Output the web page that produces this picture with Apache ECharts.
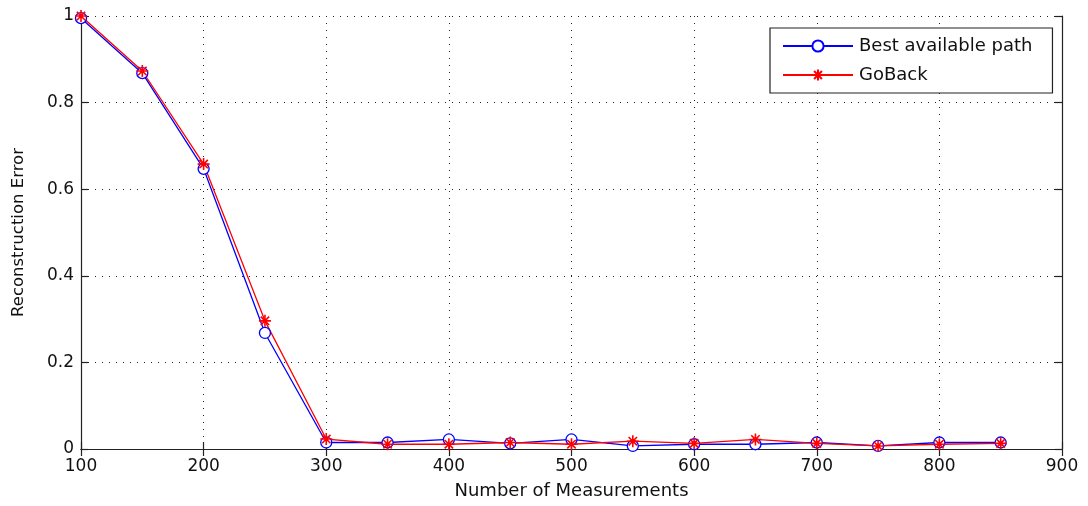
<!DOCTYPE html>
<html>
<head>
<meta charset="utf-8">
<script src="https://cdn.jsdelivr.net/npm/echarts@6/dist/echarts.min.js"></script>
<style>html,body{margin:0;padding:0;background:#fff;}#c{width:1088px;height:506px;}</style>
</head>
<body>
<div id="c"></div>
<script>
const measurements = [100,150,200,250,300,350,400,450,500,550,600,650,700,750,800,850];
const bestPath = [0.995,0.868,0.647,0.268,0.015,0.015,0.022,0.013,0.022,0.007,0.011,0.011,0.015,0.007,0.015,0.015];
const goBack   = [1.0,0.873,0.658,0.296,0.023,0.011,0.011,0.015,0.011,0.018,0.013,0.022,0.013,0.007,0.011,0.013];
const seriesNames = ['Best available path','GoBack'];
const xTitle = 'Number of Measurements';
const yTitle = 'Reconstruction Error';

const font = 'DejaVu Sans, Verdana, sans-serif';
const star = 'path://M0,-6L0,6M-6,0L6,0M-4.2,-4.2L4.2,4.2M-4.2,4.2L4.2,-4.2';
const gridLine = {show:true, lineStyle:{color:'#222', type:[1,6], width:1}};
const axLine = {show:true, lineStyle:{color:'#222', width:1.2}};
const tick = {show:true, inside:true, length:7, lineStyle:{color:'#222', width:1.2}};

const chart = echarts.init(document.getElementById('c'));
chart.setOption({
  backgroundColor:'#fff',
  animation:false,
  grid:{left:81, right:26, top:16, bottom:57},
  legend:{
    left:770, top:28, orient:'vertical',
    backgroundColor:'#fff', borderColor:'#222', borderWidth:1.2,
    padding:[9,20,9,12], itemGap:11, itemWidth:70, itemHeight:14,
    textStyle:{fontFamily:font, fontSize:18, color:'#111', padding:[0,0,0,1]},
    data:seriesNames
  },
  xAxis:[{
    type:'value', min:100, max:900, interval:100,
    name:xTitle, nameLocation:'middle', nameGap:33,
    nameTextStyle:{fontFamily:font, fontSize:18, color:'#111'},
    axisLine:axLine, axisTick:tick, splitLine:gridLine,
    axisLabel:{fontFamily:font, fontSize:17, color:'#111', margin:9}
  },{
    type:'value', position:'top', min:100, max:900, interval:100,
    axisLine:axLine, axisTick:tick, splitLine:{show:false}, axisLabel:{show:false}
  }],
  yAxis:[{
    type:'value', min:0, max:1, interval:0.2,
    name:yTitle, nameLocation:'middle', nameGap:54,
    nameTextStyle:{fontFamily:font, fontSize:16.5, color:'#111'},
    axisLine:axLine, axisTick:tick, splitLine:gridLine,
    axisLabel:{fontFamily:font, fontSize:17, color:'#111', margin:7}
  },{
    type:'value', position:'right', min:0, max:1, interval:0.2,
    axisLine:axLine, axisTick:tick, splitLine:{show:false}, axisLabel:{show:false}
  }],
  series:[{
    name:seriesNames[0], type:'line',
    data:measurements.map((m,i)=>[m,bestPath[i]]),
    symbol:'circle', symbolSize:11, showAllSymbol:true,
    lineStyle:{color:'#0000ff', width:1.3},
    itemStyle:{color:'#fff', borderColor:'#0000ff', borderWidth:1.3},
    emphasis:{disabled:true}
  },{
    name:seriesNames[1], type:'line',
    data:measurements.map((m,i)=>[m,goBack[i]]),
    symbol:star, symbolSize:12, showAllSymbol:true,
    lineStyle:{color:'#ff0000', width:1.3},
    itemStyle:{color:'#ff0000', borderColor:'#ff0000', borderWidth:1.6},
    emphasis:{disabled:true}
  }]
});
</script>
</body>
</html>
